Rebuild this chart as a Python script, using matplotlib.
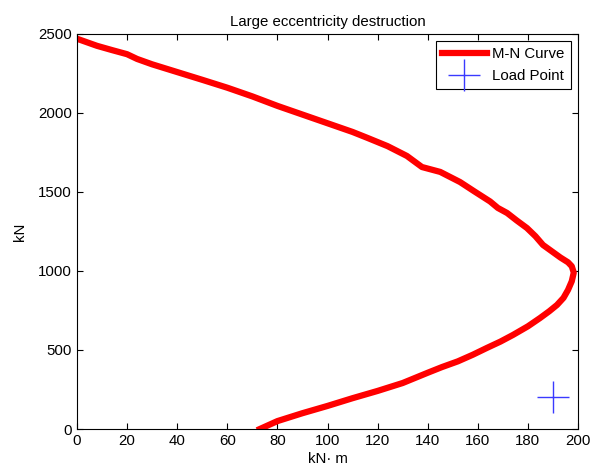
import matplotlib.pyplot as plt
import numpy as np

plt.rcParams['font.family'] = ['Liberation Sans', 'DejaVu Sans']

# M-N interaction curve (M in kN*m, N in kN)
m_vals = [73, 80, 90, 100, 110, 120, 130, 140, 145.7, 152, 158, 163.6,
          169, 174, 180, 184.8, 188.5, 191.6, 194.2, 196, 197.5, 198.3,
          197.5, 196, 193, 189.5, 186, 183, 179.6, 175.5, 171.7, 168, 164.9,
          158.5, 152.9, 145, 137.7, 131.7, 124, 116, 110, 100, 90, 80, 70,
          60, 50, 40, 30, 24, 20, 14, 8, 0]
n_vals = [0, 50, 100, 146, 195, 241, 291, 356, 392, 428, 470, 513,
          553, 595, 650, 702, 745, 785, 830, 880, 935, 990,
          1030, 1055, 1085, 1125, 1165, 1220, 1272, 1320, 1367, 1399, 1440,
          1505, 1563, 1627, 1658, 1728, 1790, 1842, 1880, 1935, 1990, 2045, 2105,
          2160, 2210, 2259, 2308, 2342, 2372, 2398, 2425, 2470]
load_m = [190]
load_n = [200]

fig = plt.figure(figsize=(5.99, 4.72), dpi=100)
ax = fig.add_axes([0.1285, 0.0911, 0.8365, 0.8369])
ax.plot(m_vals, n_vals, color='red', lw=4.5, label='M-N Curve')
ax.plot(load_m, load_n, '+', color='#3a3aff', ms=23, mew=1.0, label='Load Point')
ax.set_xlim(0, 200)
ax.set_ylim(0, 2500)
ax.set_xticks(np.arange(0, 201, 20))
ax.set_yticks(np.arange(0, 2501, 500))
ax.tick_params(direction='in', top=True, right=True, length=4, labelsize=10.8)
ax.set_title('Large eccentricity destruction', fontsize=10.8)
ax.set_xlabel('kN· m', fontsize=10.8, labelpad=3)
ax.set_ylabel('kN', fontsize=10.8, labelpad=8)
leg = ax.legend(loc='upper right', fontsize=10.8, fancybox=False, framealpha=1,
                edgecolor='black', handlelength=3.0, handletextpad=0.35,
                borderpad=0.4, borderaxespad=0.5)
leg.get_frame().set_linewidth(0.8)
fig.savefig('out.png', dpi=100)
